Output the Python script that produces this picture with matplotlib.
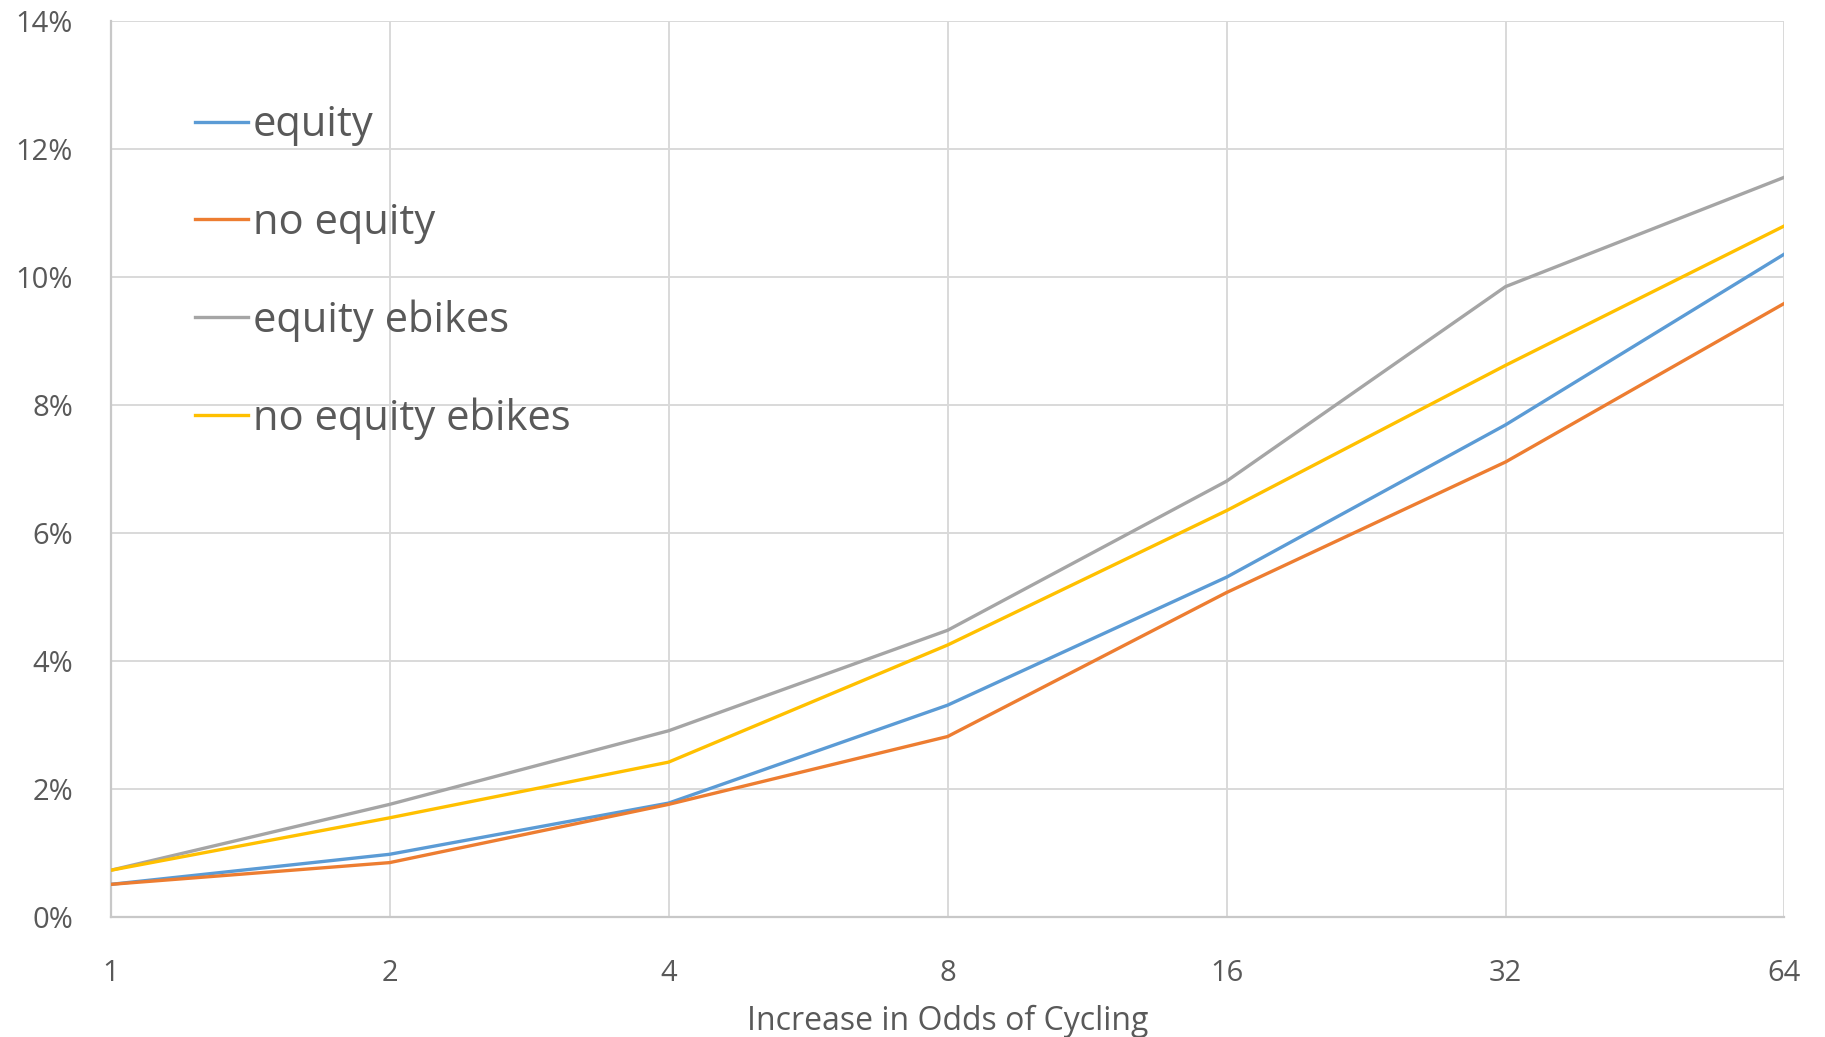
import numpy as np
import matplotlib.pyplot as plt
from matplotlib.ticker import FixedLocator, FixedFormatter

# odds multipliers and share of trips (%)
odds = [1, 2, 4, 8, 16, 32, 64]
equity = [0.51, 0.98, 1.78, 3.31, 5.31, 7.69, 10.36]
no_equity = [0.51, 0.85, 1.76, 2.82, 5.07, 7.11, 9.59]
equity_ebikes = [0.73, 1.76, 2.91, 4.48, 6.81, 9.85, 11.56]
no_equity_ebikes = [0.73, 1.55, 2.42, 4.25, 6.35, 8.62, 10.80]

series = [
    ('equity', equity, '#5B9BD5'),
    ('no equity', no_equity, '#ED7D31'),
    ('equity ebikes', equity_ebikes, '#A5A5A5'),
    ('no equity ebikes', no_equity_ebikes, '#FFC000'),
]

txt = '#595959'
grid = '#D9D9D9'
plt.rcParams['font.family'] = ['Open Sans', 'DejaVu Sans']

fig = plt.figure(figsize=(18.25, 10.37), dpi=100)
ax = fig.add_axes([0.0606, 0.1157, 0.9172, 0.864])

for nombre, y, c in series:
    ax.plot(odds, y, color=c, lw=2.4, label=nombre, solid_joinstyle='round', zorder=3)

ax.set_xscale('log', base=2)
ax.set_xlim(1, 64)
ax.set_ylim(0, 14)
ax.xaxis.set_major_locator(FixedLocator(odds))
ax.xaxis.set_major_formatter(FixedFormatter([str(o) for o in odds]))
ax.xaxis.set_minor_locator(FixedLocator([]))
yt = np.arange(0, 15, 2)
ax.set_yticks(yt)
ax.set_yticklabels(['{}%'.format(v) for v in yt])

ax.grid(True, color=grid, lw=1.4, zorder=0)
ax.tick_params(length=0, labelsize=21, colors=txt)
ax.tick_params(axis='y', pad=27)
ax.tick_params(axis='x', pad=30)
for s in ['top', 'right']:
    ax.spines[s].set_visible(False)
for s in ['left', 'bottom']:
    ax.spines[s].set_color('#C8C8C8')
    ax.spines[s].set_linewidth(1.6)

ax.set_xlabel('Increase in Odds of Cycling', fontsize=23, color=txt, labelpad=12)

leg = ax.legend(loc='upper left', bbox_to_anchor=(0.0507, 0.907), frameon=False,
                fontsize=30, handlelength=1.25, handletextpad=0.13,
                labelspacing=1.33, borderpad=0, borderaxespad=0)
for t in leg.get_texts():
    t.set_color(txt)

fig.savefig('out.png', dpi=100, facecolor='white')
